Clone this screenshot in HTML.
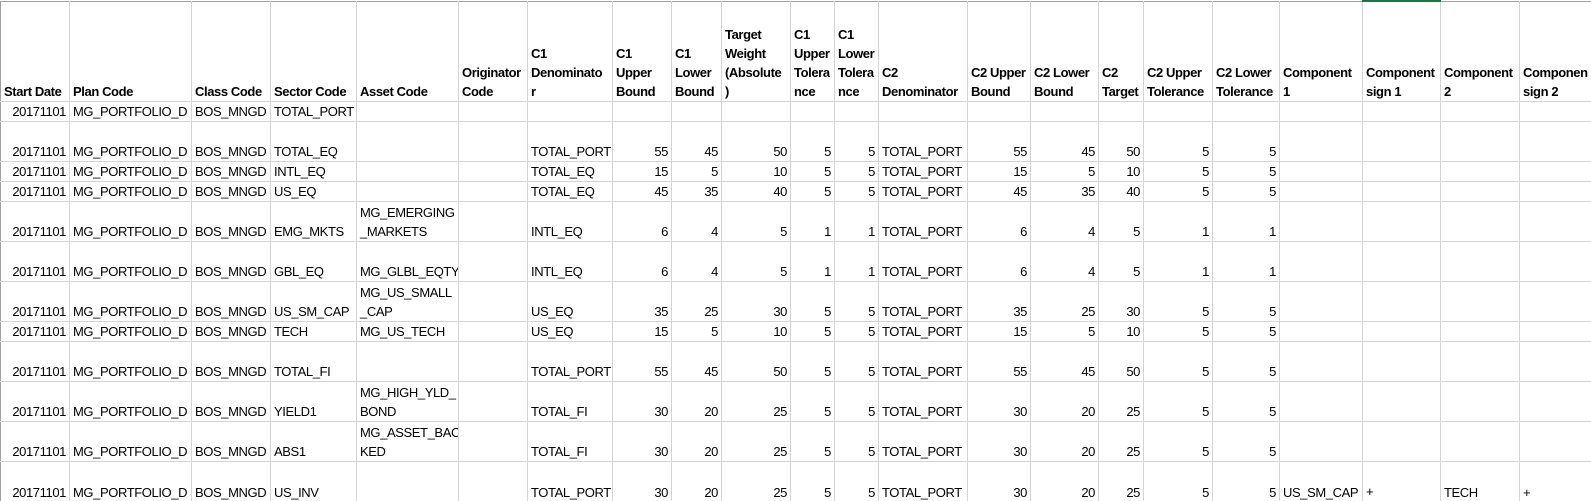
<!DOCTYPE html>
<html><head><meta charset="utf-8">
<style>
html,body{margin:0;padding:0;background:#fff;width:1591px;height:501px;overflow:hidden}
table{border-collapse:collapse;table-layout:fixed;width:1591px;font-family:"Liberation Sans",sans-serif;font-size:13px;letter-spacing:-0.4px;color:#000;border-top:1px solid #a0a0a0}
td{border-right:1px solid #d4d4d4;border-bottom:1px solid #d4d4d4;padding:0 3px;line-height:19px;vertical-align:bottom;white-space:nowrap;overflow:hidden;box-sizing:content-box}
td:first-child{border-left:1px solid #a0a0a0}
tr.h td{font-weight:bold;height:99px}
tr.r1 td{height:19px}
tr.r2 td{height:39px}
td.n{text-align:right}
td.sel{border-top:2px solid #217346}
td.selb{border-bottom:2px solid #217346}
</style></head><body>
<table>
<colgroup>
<col style="width:69px"><col style="width:122px"><col style="width:79px"><col style="width:86px"><col style="width:102px"><col style="width:69px"><col style="width:85px"><col style="width:59px"><col style="width:50px"><col style="width:69px"><col style="width:44px"><col style="width:44px"><col style="width:89px"><col style="width:63px"><col style="width:68px"><col style="width:45px"><col style="width:69px"><col style="width:67px"><col style="width:83px"><col style="width:78px"><col style="width:79px"><col style="width:72px">
</colgroup>
<tr class="h">
<td>Start Date</td>
<td>Plan Code</td>
<td>Class Code</td>
<td>Sector Code</td>
<td>Asset Code</td>
<td>Originator<br>Code</td>
<td>C1<br>Denominato<br>r</td>
<td>C1<br>Upper<br>Bound</td>
<td>C1<br>Lower<br>Bound</td>
<td>Target<br>Weight<br>(Absolute<br>)</td>
<td>C1<br>Upper<br>Tolera<br>nce</td>
<td>C1<br>Lower<br>Tolera<br>nce</td>
<td>C2<br>Denominator</td>
<td>C2 Upper<br>Bound</td>
<td>C2 Lower<br>Bound</td>
<td>C2<br>Target</td>
<td>C2 Upper<br>Tolerance</td>
<td>C2 Lower<br>Tolerance</td>
<td>Component<br>1</td>
<td class="sel">Component<br>sign 1</td>
<td>Component<br>2</td>
<td>Componen<br>sign 2</td>
</tr>
<tr class="r1"><td class="n">20171101</td><td>MG_PORTFOLIO_D</td><td>BOS_MNGD</td><td>TOTAL_PORT</td><td></td><td></td><td></td><td></td><td></td><td></td><td></td><td></td><td></td><td></td><td></td><td></td><td></td><td></td><td></td><td></td><td></td><td></td></tr>
<tr class="r2"><td class="n">20171101</td><td>MG_PORTFOLIO_D</td><td>BOS_MNGD</td><td>TOTAL_EQ</td><td></td><td></td><td>TOTAL_PORT</td><td class="n">55</td><td class="n">45</td><td class="n">50</td><td class="n">5</td><td class="n">5</td><td>TOTAL_PORT</td><td class="n">55</td><td class="n">45</td><td class="n">50</td><td class="n">5</td><td class="n">5</td><td></td><td></td><td></td><td></td></tr>
<tr class="r1"><td class="n">20171101</td><td>MG_PORTFOLIO_D</td><td>BOS_MNGD</td><td>INTL_EQ</td><td></td><td></td><td>TOTAL_EQ</td><td class="n">15</td><td class="n">5</td><td class="n">10</td><td class="n">5</td><td class="n">5</td><td>TOTAL_PORT</td><td class="n">15</td><td class="n">5</td><td class="n">10</td><td class="n">5</td><td class="n">5</td><td></td><td></td><td></td><td></td></tr>
<tr class="r1"><td class="n">20171101</td><td>MG_PORTFOLIO_D</td><td>BOS_MNGD</td><td>US_EQ</td><td></td><td></td><td>TOTAL_EQ</td><td class="n">45</td><td class="n">35</td><td class="n">40</td><td class="n">5</td><td class="n">5</td><td>TOTAL_PORT</td><td class="n">45</td><td class="n">35</td><td class="n">40</td><td class="n">5</td><td class="n">5</td><td></td><td></td><td></td><td></td></tr>
<tr class="r2"><td class="n">20171101</td><td>MG_PORTFOLIO_D</td><td>BOS_MNGD</td><td>EMG_MKTS</td><td>MG_EMERGING<br>_MARKETS</td><td></td><td>INTL_EQ</td><td class="n">6</td><td class="n">4</td><td class="n">5</td><td class="n">1</td><td class="n">1</td><td>TOTAL_PORT</td><td class="n">6</td><td class="n">4</td><td class="n">5</td><td class="n">1</td><td class="n">1</td><td></td><td></td><td></td><td></td></tr>
<tr class="r2"><td class="n">20171101</td><td>MG_PORTFOLIO_D</td><td>BOS_MNGD</td><td>GBL_EQ</td><td>MG_GLBL_EQTY</td><td></td><td>INTL_EQ</td><td class="n">6</td><td class="n">4</td><td class="n">5</td><td class="n">1</td><td class="n">1</td><td>TOTAL_PORT</td><td class="n">6</td><td class="n">4</td><td class="n">5</td><td class="n">1</td><td class="n">1</td><td></td><td></td><td></td><td></td></tr>
<tr class="r2"><td class="n">20171101</td><td>MG_PORTFOLIO_D</td><td>BOS_MNGD</td><td>US_SM_CAP</td><td>MG_US_SMALL<br>_CAP</td><td></td><td>US_EQ</td><td class="n">35</td><td class="n">25</td><td class="n">30</td><td class="n">5</td><td class="n">5</td><td>TOTAL_PORT</td><td class="n">35</td><td class="n">25</td><td class="n">30</td><td class="n">5</td><td class="n">5</td><td></td><td></td><td></td><td></td></tr>
<tr class="r1"><td class="n">20171101</td><td>MG_PORTFOLIO_D</td><td>BOS_MNGD</td><td>TECH</td><td>MG_US_TECH</td><td></td><td>US_EQ</td><td class="n">15</td><td class="n">5</td><td class="n">10</td><td class="n">5</td><td class="n">5</td><td>TOTAL_PORT</td><td class="n">15</td><td class="n">5</td><td class="n">10</td><td class="n">5</td><td class="n">5</td><td></td><td></td><td></td><td></td></tr>
<tr class="r2"><td class="n">20171101</td><td>MG_PORTFOLIO_D</td><td>BOS_MNGD</td><td>TOTAL_FI</td><td></td><td></td><td>TOTAL_PORT</td><td class="n">55</td><td class="n">45</td><td class="n">50</td><td class="n">5</td><td class="n">5</td><td>TOTAL_PORT</td><td class="n">55</td><td class="n">45</td><td class="n">50</td><td class="n">5</td><td class="n">5</td><td></td><td></td><td></td><td></td></tr>
<tr class="r2"><td class="n">20171101</td><td>MG_PORTFOLIO_D</td><td>BOS_MNGD</td><td>YIELD1</td><td>MG_HIGH_YLD_<br>BOND</td><td></td><td>TOTAL_FI</td><td class="n">30</td><td class="n">20</td><td class="n">25</td><td class="n">5</td><td class="n">5</td><td>TOTAL_PORT</td><td class="n">30</td><td class="n">20</td><td class="n">25</td><td class="n">5</td><td class="n">5</td><td></td><td></td><td></td><td></td></tr>
<tr class="r2"><td class="n">20171101</td><td>MG_PORTFOLIO_D</td><td>BOS_MNGD</td><td>ABS1</td><td>MG_ASSET_BAC<br>KED</td><td></td><td>TOTAL_FI</td><td class="n">30</td><td class="n">20</td><td class="n">25</td><td class="n">5</td><td class="n">5</td><td>TOTAL_PORT</td><td class="n">30</td><td class="n">20</td><td class="n">25</td><td class="n">5</td><td class="n">5</td><td></td><td></td><td></td><td></td></tr>
<tr class="r2"><td class="n">20171101</td><td>MG_PORTFOLIO_D</td><td>BOS_MNGD</td><td>US_INV</td><td></td><td></td><td>TOTAL_PORT</td><td class="n">30</td><td class="n">20</td><td class="n">25</td><td class="n">5</td><td class="n">5</td><td>TOTAL_PORT</td><td class="n">30</td><td class="n">20</td><td class="n">25</td><td class="n">5</td><td class="n">5</td><td>US_SM_CAP</td><td class="selb">+</td><td>TECH</td><td>+</td></tr>
</table>
</body></html>
